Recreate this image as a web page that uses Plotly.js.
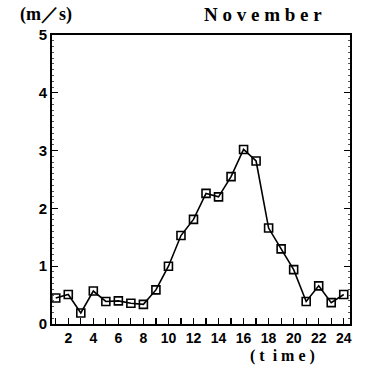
<!DOCTYPE html>
<html>
<head>
<meta charset="utf-8">
<script src="https://cdn.plot.ly/plotly-3.0.1.min.js"></script>
<style>html,body{margin:0;padding:0;background:#fff;}#chart{width:367px;height:371px;}</style>
</head>
<body>
<div id="chart"></div>
<script>
const hours = [1,2,3,4,5,6,7,8,9,10,11,12,13,14,15,16,17,18,19,20,21,22,23,24];
const speed = [0.45,0.51,0.19,0.57,0.39,0.40,0.36,0.34,0.59,1.00,1.53,1.81,2.26,2.20,2.55,3.02,2.82,1.66,1.30,0.94,0.39,0.66,0.37,0.51];
const xTickVals = hours;
const xTickText = hours.map(h => (h % 2 === 0 ? String(h) : ''));
const yTickVals = [0,1,2,3,4,5];

const font = {family: 'Liberation Serif, DejaVu Serif, serif', size: 14, color: '#000'};

const trace = {
  x: hours, y: speed, type: 'scatter', mode: 'lines+markers',
  line: {color: '#000', width: 1.6},
  marker: {symbol: 'square-open', size: 8, color: '#000', line: {width: 1.6, color: '#000'}},
  cliponaxis: false
};

const layout = {
  width: 367, height: 371,
  margin: {l: 52, r: 17, t: 35, b: 47},
  paper_bgcolor: '#fff', plot_bgcolor: '#fff',
  showlegend: false,
  font: font,
  xaxis: {
    range: [0.7, 24.5], tickmode: 'array', tickvals: xTickVals, ticktext: xTickText,
    ticks: 'inside', ticklen: 6, tickwidth: 1.2, tickcolor: '#000',
    showline: true, linecolor: '#000', linewidth: 2, mirror: true,
    showgrid: false, zeroline: false,
    tickfont: {family: 'Liberation Sans, Arial, sans-serif', size: 14, color: '#000', weight: 'bold'},
    ticklabelstandoff: 0
  },
  yaxis: {
    range: [0, 5], tickmode: 'array', tickvals: yTickVals,
    ticks: 'inside', ticklen: 6, tickwidth: 1.2, tickcolor: '#000',
    showline: true, linecolor: '#000', linewidth: 2, mirror: 'ticks',
    showgrid: false, zeroline: false,
    minor: {dtick: 0.1, ticks: 'inside', ticklen: 2, tickcolor: '#555', tickwidth: 1},
    tickfont: {family: 'Liberation Sans, Arial, sans-serif', size: 15, color: '#000', weight: 'bold'}
  },
  annotations: [
    {text: '(m／s)', xref: 'paper', yref: 'paper', x: -0.02, y: 1.07, showarrow: false,
     xanchor: 'center', yanchor: 'middle', font: {family: 'Liberation Serif, serif', size: 18, color: '#000', weight: 'bold'}},
    {text: 'N o v e m b e r', xref: 'paper', yref: 'paper', x: 0.708, y: 1.07, showarrow: false,
     xanchor: 'center', yanchor: 'middle', font: {family: 'Liberation Serif, serif', size: 19, color: '#000', weight: 'bold'}},
    {text: '( t  i m e )', xref: 'paper', yref: 'paper', x: 0.772, y: -0.112, showarrow: false,
     xanchor: 'center', yanchor: 'middle', font: {family: 'Liberation Serif, serif', size: 16, color: '#000', weight: 'bold'}}
  ]
};

Plotly.newPlot('chart', [trace], layout, {displayModeBar: false, staticPlot: true});
</script>
</body>
</html>
